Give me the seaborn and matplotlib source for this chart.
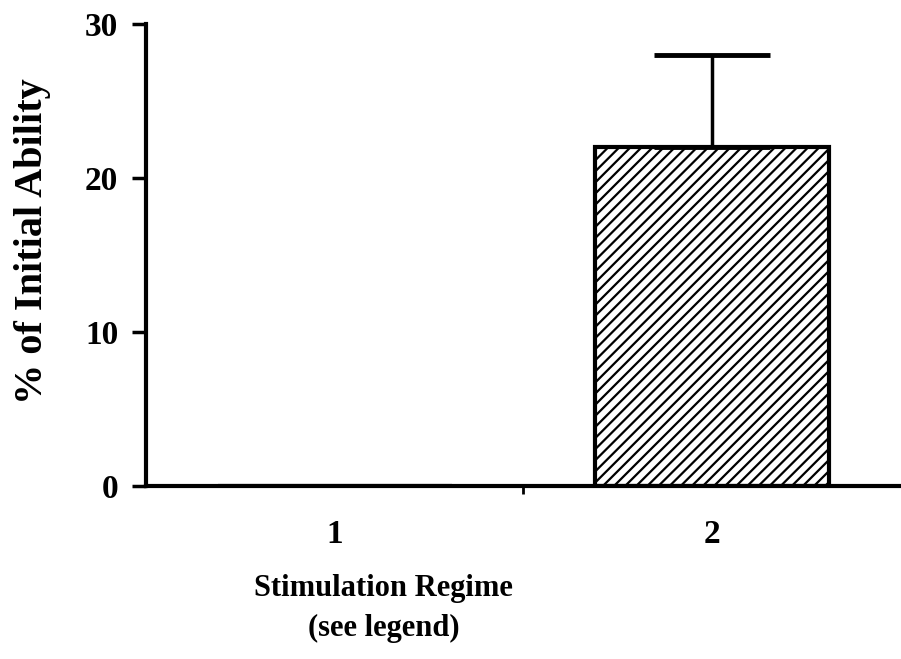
import matplotlib
matplotlib.use('Agg')
import matplotlib.pyplot as plt
import numpy as np
import pandas as pd
import seaborn as sb

# data
regimes = ['1', '2']
pct_initial = [0.0, 22.0]
err_upper = [0.0, 6.0]

y_ticks = [0, 10, 20, 30]

sb.set_style('white')
plt.rcParams['font.family'] = ['Liberation Serif', 'DejaVu Serif']
plt.rcParams['font.weight'] = 'bold'
plt.rcParams['hatch.linewidth'] = 1.6
plt.rcParams['hatch.color'] = 'black'
plt.rcParams['text.color'] = 'black'
plt.rcParams['axes.labelcolor'] = 'black'
plt.rcParams['xtick.color'] = 'black'
plt.rcParams['ytick.color'] = 'black'

df = pd.DataFrame({'regime': regimes, 'pct': pct_initial})

fig = plt.figure(figsize=(9.01, 6.59), dpi=100)
ax = fig.add_axes([0.162, 0.2625, 0.838, 0.701])

sb.barplot(data=df, x='regime', y='pct', ax=ax, color='white', edgecolor='black',
           linewidth=3, width=0.62, errorbar=None, hatch='///')

# upper-only error bars
ax.errorbar(np.arange(len(regimes)), pct_initial,
            yerr=[np.zeros(len(regimes)), err_upper],
            fmt='none', ecolor='black', elinewidth=2.5, capsize=42, capthick=3.5, zorder=1)

ax.set_ylim(0, 30)
ax.set_xlim(-0.5, 1.5)
ax.set_yticks(y_ticks)
ax.set_yticklabels([str(t) for t in y_ticks], fontsize=24, fontweight='bold')
ax.tick_params(axis='y', direction='out', length=10, width=2.5, pad=10, left=True)

# category labels without marks, one mark between the categories
ax.set_xticks([0, 1])
ax.set_xticklabels(regimes, fontsize=24, fontweight='bold')
ax.tick_params(axis='x', which='major', length=0, pad=24)
ax.set_xticks([0.5], minor=True)
ax.tick_params(axis='x', which='minor', direction='out', length=6, width=2, bottom=True)

for side in ['top', 'right']:
    ax.spines[side].set_visible(False)
for side in ['left', 'bottom']:
    ax.spines[side].set_linewidth(3)
    ax.spines[side].set_color('black')

ax.set_xlabel('Stimulation Regime\n(see legend)', fontsize=22, fontweight='bold',
              multialignment='center', linespacing=1.5)
ax.xaxis.set_label_coords(0.315, -0.19)
ax.set_ylabel('% of Initial Ability', fontsize=29, fontweight='bold')
ax.yaxis.set_label_coords(-0.126, 0.53)

plt.savefig('out.png', dpi=100)
